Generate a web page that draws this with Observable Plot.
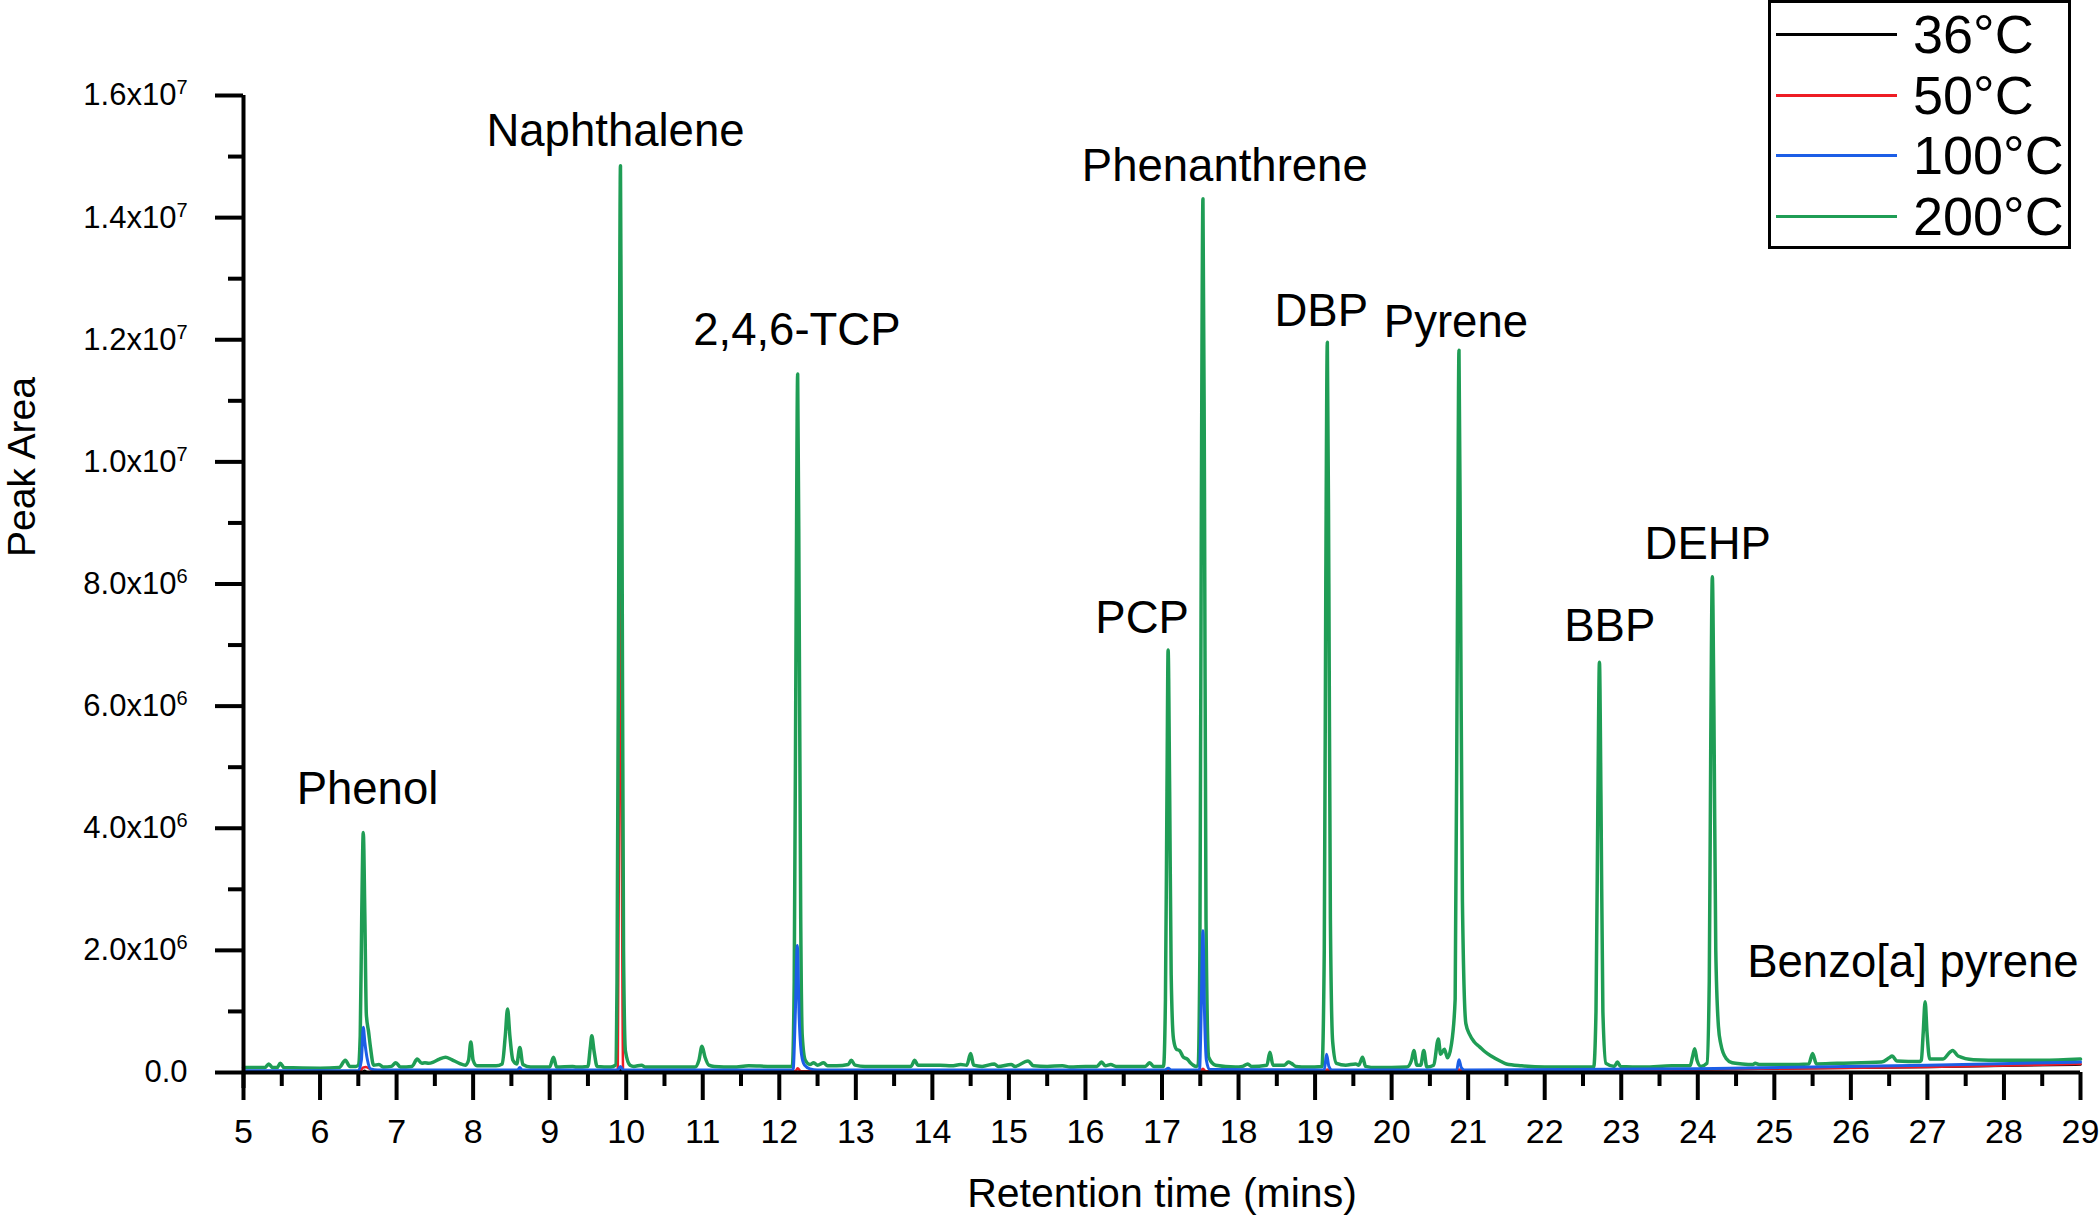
<!DOCTYPE html>
<html><head><meta charset="utf-8">
<script src="https://cdn.jsdelivr.net/npm/d3@7"></script>
<script src="https://cdn.jsdelivr.net/npm/@observablehq/plot@0.6"></script>
<style>
html,body{margin:0;padding:0;background:#fff;}
body{font-family:"Liberation Sans",Arial,Helvetica,sans-serif;}
#wrap{position:relative;width:2100px;height:1218px;overflow:hidden;}
#legend{position:absolute;left:1768px;top:0px;width:297px;height:243px;border:3px solid #000;background:#fff;}
.lrow{position:absolute;left:0;height:60px;width:297px;}
.lline{position:absolute;left:5px;width:121px;height:3px;top:29px;}
.ltext{position:absolute;left:142px;top:0;line-height:60px;font-size:54px;color:#000;}
</style></head>
<body><div id="wrap"></div>
<script>
// ---- series names / colours ----
const seriesNames = ["36°C", "50°C", "100°C", "200°C"];
const seriesColors = ["#000000", "#ee1c24", "#1c5ee6", "#1f9d55"];

// ---- 200 °C trace (retention time in min, peak area in 10^6) ----
const t200 = [5.00,5.20,5.28,5.33,5.38,5.44,5.48,5.53,6.00,6.25,6.33,6.39,6.47,6.50,6.525,6.545,6.565,6.585,6.605,6.635,6.66,6.70,6.77,6.83,6.93,6.99,7.05,7.20,7.27,7.33,7.37,7.42,7.48,7.56,7.64,7.72,7.82,7.90,7.94,7.97,8.00,8.05,8.30,8.38,8.42,8.45,8.48,8.52,8.57,8.61,8.65,8.75,9.00,9.05,9.09,9.30,9.35,9.50,9.53,9.55,9.58,9.62,9.80,9.86,9.88,9.905,9.925,9.945,9.965,9.99,10.05,10.10,10.20,10.25,10.90,10.95,10.99,11.03,11.08,11.15,11.40,11.60,11.90,12.17,12.195,12.22,12.24,12.26,12.28,12.30,12.34,12.40,12.45,12.50,12.58,12.63,12.75,12.90,12.94,12.99,13.12,13.50,13.72,13.77,13.81,13.95,14.10,14.25,14.37,14.45,14.50,14.54,14.65,14.81,14.86,15.03,15.08,15.25,15.32,15.50,15.70,15.80,16.00,16.15,16.21,16.26,16.33,16.40,16.78,16.84,16.89,17.02,17.045,17.065,17.08,17.10,17.12,17.15,17.19,17.23,17.28,17.33,17.37,17.45,17.47,17.495,17.515,17.535,17.555,17.575,17.61,17.70,17.96,18.05,18.12,18.17,18.37,18.41,18.45,18.60,18.65,18.69,18.75,18.90,19.09,19.12,19.14,19.16,19.18,19.20,19.23,19.28,19.40,19.53,19.57,19.62,19.66,19.80,20.20,20.26,20.29,20.33,20.38,20.42,20.46,20.55,20.61,20.64,20.69,20.73,20.78,20.83,20.86,20.88,20.90,20.925,20.97,21.02,21.08,21.15,21.22,21.30,21.43,21.50,21.70,22.00,22.30,22.64,22.67,22.695,22.715,22.735,22.76,22.80,22.91,22.95,22.99,23.30,23.66,23.90,23.93,23.96,23.99,24.04,24.12,24.15,24.17,24.19,24.21,24.235,24.27,24.30,24.37,24.45,24.58,24.72,24.75,24.80,25.19,25.45,25.50,25.55,25.82,26.40,26.50,26.54,26.60,26.90,26.92,26.945,26.97,26.995,27.03,27.20,27.30,27.33,27.40,27.60,28.00,28.50,29.00];
const v200 = [0.08,0.08,0.08,0.14,0.08,0.08,0.15,0.08,0.07,0.08,0.20,0.10,0.10,0.12,0.60,2.60,3.93,2.60,0.95,0.66,0.40,0.12,0.13,0.09,0.10,0.16,0.09,0.10,0.22,0.15,0.16,0.15,0.17,0.22,0.25,0.21,0.15,0.12,0.20,0.50,0.20,0.11,0.11,0.14,0.60,1.04,0.60,0.20,0.14,0.41,0.13,0.09,0.09,0.25,0.09,0.10,0.09,0.10,0.40,0.60,0.35,0.10,0.09,0.12,1.50,9.00,14.85,9.00,2.00,0.35,0.12,0.10,0.12,0.09,0.09,0.20,0.43,0.25,0.12,0.10,0.09,0.11,0.10,0.10,1.50,7.50,11.44,7.50,2.50,0.60,0.20,0.13,0.16,0.12,0.16,0.11,0.11,0.13,0.20,0.12,0.10,0.10,0.10,0.20,0.12,0.12,0.12,0.11,0.13,0.12,0.31,0.12,0.10,0.14,0.10,0.13,0.10,0.19,0.11,0.10,0.11,0.09,0.10,0.10,0.17,0.11,0.13,0.10,0.10,0.16,0.10,0.10,1.20,4.60,6.92,4.60,1.60,0.55,0.38,0.36,0.25,0.22,0.16,0.10,0.12,2.00,9.50,14.31,9.50,2.50,0.25,0.12,0.09,0.10,0.14,0.10,0.12,0.33,0.12,0.12,0.17,0.15,0.10,0.09,0.10,2.00,8.00,11.96,8.00,2.50,0.50,0.15,0.12,0.14,0.12,0.25,0.10,0.08,0.09,0.20,0.36,0.12,0.12,0.36,0.09,0.12,0.55,0.30,0.38,0.24,0.45,1.20,7.50,11.83,8.00,2.80,0.80,0.62,0.50,0.42,0.34,0.27,0.18,0.14,0.11,0.09,0.09,0.09,1.00,4.50,6.72,4.50,1.00,0.15,0.10,0.17,0.10,0.09,0.11,0.11,0.25,0.39,0.20,0.10,0.15,1.50,5.50,8.12,6.00,2.00,0.75,0.47,0.23,0.16,0.14,0.13,0.15,0.13,0.13,0.14,0.31,0.14,0.15,0.17,0.24,0.27,0.19,0.18,0.20,0.65,1.16,0.65,0.22,0.22,0.34,0.36,0.27,0.21,0.20,0.20,0.22];

// ---- 100 °C trace ----
const t100 = [5.00,6.50,6.54,6.565,6.585,6.60,6.62,6.66,6.75,8.58,8.61,8.64,9.89,9.925,9.96,12.18,12.21,12.235,12.26,12.29,12.33,12.40,12.50,17.04,17.08,17.12,17.49,17.515,17.535,17.555,17.58,17.62,19.12,19.15,19.18,19.22,20.85,20.88,20.91,20.95,24.00,27.00,29.00];
const v100 = [0.03,0.03,0.20,0.74,0.50,0.35,0.20,0.06,0.04,0.04,0.08,0.04,0.04,0.10,0.04,0.04,1.00,2.08,0.90,0.30,0.12,0.06,0.04,0.04,0.07,0.04,0.04,1.20,2.32,1.00,0.20,0.05,0.04,0.30,0.10,0.04,0.04,0.21,0.08,0.04,0.06,0.12,0.17];

// ---- 50 °C trace ----
const t50 = [5.00,6.52,6.56,6.60,6.66,6.75,8.59,8.62,8.65,9.89,9.91,9.925,9.94,9.96,12.21,12.24,12.28,17.50,17.535,17.57,19.13,19.16,19.19,20.85,20.88,20.91,24.00,27.00,29.00];
const v50 = [0.01,0.01,0.08,0.09,0.05,0.02,0.02,0.05,0.02,0.02,5.00,11.50,5.00,0.02,0.02,0.07,0.02,0.02,0.06,0.02,0.02,0.05,0.02,0.02,0.05,0.02,0.05,0.09,0.14];

// ---- 36 °C trace ----
const t36 = [5.00,6.55,6.58,6.62,9.90,9.925,9.95,12.00,17.00,20.00,24.00,27.00,29.00];
const v36 = [0.00,0.00,0.03,0.00,0.00,0.06,0.00,0.01,0.01,0.02,0.05,0.09,0.13];

// ---- compound labels ----
const labelNames = ["Phenol","Naphthalene","2,4,6-TCP","Phenanthrene","PCP","DBP","Pyrene","BBP","DEHP","Benzo[a] pyrene"];
const labelT = [6.62, 9.86, 12.23, 17.82, 16.74, 19.08, 20.84, 22.85, 24.13, 26.81];
const labelV = [4.63, 15.41, 12.16, 14.84, 7.44, 12.46, 12.29, 7.31, 8.65, 1.80];

// ---- axis ticks ----
const xMajor = d3.range(5, 30, 1);
const xMinor = d3.range(5.5, 29, 1);
const yMajor = [0, 2, 4, 6, 8, 10, 12, 14, 16];
const yMinor = [1, 3, 5, 7, 9, 11, 13, 15];

const toRows = (name, ts, vs) => ts.map((t, i) => ({series: name, t, v: vs[i]}));
const rows36 = toRows(seriesNames[0], t36, v36);
const rows50 = toRows(seriesNames[1], t50, v50);
const rows100 = toRows(seriesNames[2], t100, v100);
const rows200 = toRows(seriesNames[3], t200, v200);

const yFmt = v => v === 0 ? "0.0" : (v >= 10 ? (v / 10).toFixed(1) + "x10^7" : v.toFixed(1) + "x10^6");
const FONT = '"Liberation Sans", Arial, Helvetica, sans-serif';

const chart = Plot.plot({
  width: 2100,
  height: 1218,
  marginLeft: 243,
  marginRight: 20,
  marginTop: 95,
  marginBottom: 146,
  style: {fontFamily: FONT, color: "#000", background: "#fff", overflow: "visible"},
  x: {domain: [5, 29], label: null},
  y: {domain: [0, 16], label: null},
  color: {domain: seriesNames, range: seriesColors},
  marks: [
    Plot.line(rows36, {x: "t", y: "v", stroke: "series", strokeWidth: 2.5, curve: "monotone-x"}),
    Plot.line(rows50, {x: "t", y: "v", stroke: "series", strokeWidth: 2.5, curve: "monotone-x"}),
    Plot.line(rows200, {x: "t", y: "v", stroke: "series", strokeWidth: 3.5, curve: "monotone-x"}),
    Plot.line(rows100, {x: "t", y: "v", stroke: "series", strokeWidth: 3, curve: "monotone-x"}),
    Plot.ruleY([0], {strokeWidth: 4, stroke: "#000"}),
    Plot.ruleX([5], {strokeWidth: 4, stroke: "#000", insetBottom: -16}),
    Plot.axisX({ticks: xMajor, tickSize: 28, strokeWidth: 4, tickPadding: 18, fontSize: 34, tickFormat: d => String(d), label: null}),
    Plot.axisX({ticks: xMinor, tickSize: 14, strokeWidth: 4, tickFormat: () => "", label: null}),
    Plot.axisY({ticks: yMajor, tickSize: 28, strokeWidth: 4, tickPadding: 28, fontSize: 31, tickFormat: yFmt, label: null}),
    Plot.axisY({ticks: yMinor, tickSize: 15, strokeWidth: 4, tickFormat: () => "", label: null}),
    Plot.text(labelNames, {x: labelT, y: labelV, text: labelNames, fontSize: 45.5, fill: "#000", lineAnchor: "middle", textAnchor: "middle"}),
    Plot.text(["Retention time (mins)"], {frameAnchor: "bottom", dy: 121, fontSize: 41, fill: "#000", lineAnchor: "middle"}),
    Plot.text(["Peak Area"], {frameAnchor: "left", dx: -221, dy: -27, rotate: -90, fontSize: 39, fill: "#000", lineAnchor: "middle"})
  ]
});

const wrap = document.getElementById("wrap");
wrap.appendChild(chart);

// superscript exponents on the y tick labels
chart.querySelectorAll("text").forEach(el => {
  const s = el.textContent;
  const m = /^(.*x10)\^(\d)$/.exec(s);
  if (!m) return;
  el.textContent = m[1];
  const sup = document.createElementNS("http://www.w3.org/2000/svg", "tspan");
  sup.setAttribute("font-size", "20");
  sup.setAttribute("dy", "-11");
  sup.textContent = m[2];
  el.appendChild(sup);
});

// legend (inside top-right corner, as in the original)
const legend = document.createElement("div");
legend.id = "legend";
seriesNames.forEach((name, i) => {
  const row = document.createElement("div");
  row.className = "lrow";
  row.style.top = (1 + i * 60.7) + "px";
  const line = document.createElement("div");
  line.className = "lline";
  line.style.background = seriesColors[i];
  const txt = document.createElement("div");
  txt.className = "ltext";
  txt.textContent = name;
  row.appendChild(line);
  row.appendChild(txt);
  legend.appendChild(row);
});
wrap.appendChild(legend);
</script>
</body></html>
